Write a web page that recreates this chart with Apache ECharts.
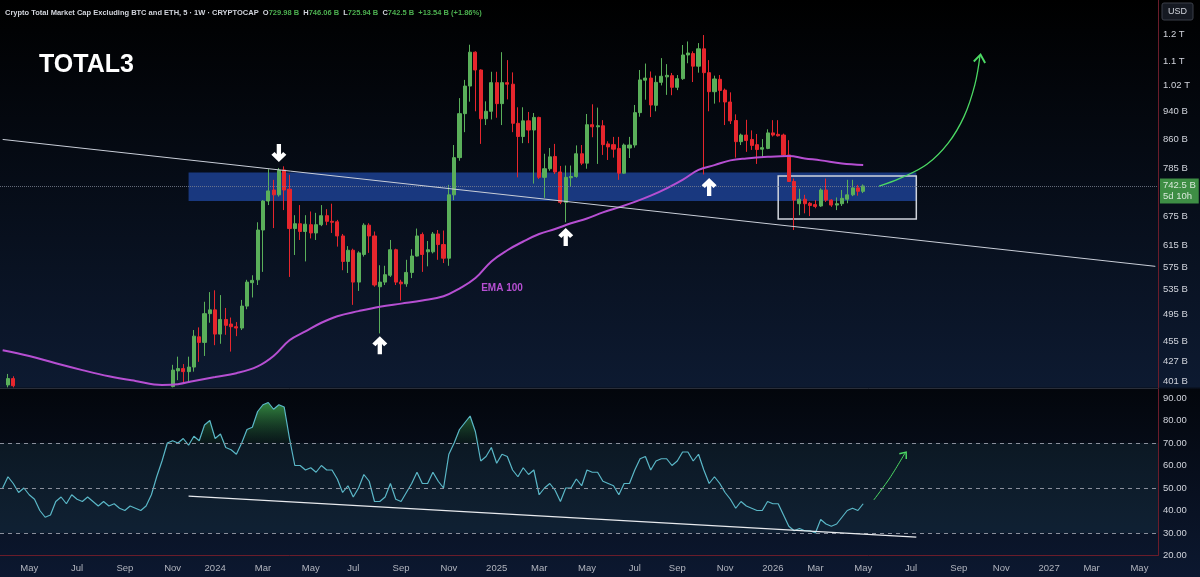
<!DOCTYPE html>
<html><head><meta charset="utf-8">
<script src="https://cdn.jsdelivr.net/npm/echarts@6/dist/echarts.min.js"></script>
<style>html,body{margin:0;padding:0;background:#000;}#c{width:1200px;height:577px;}</style>
</head><body><div id="c"></div>
<script>
// ---------- data ----------
const startMonday = '2023-03-27';
const weekCount = 218;
const opens = [385,396,404,390,372,365,360,350,335,318,325,330,338,345,340,342,335,318,312,315,308,300,305,298,305,310,312,322,340,358,370,378,
394,414,417,413,419,461,453,496,502,465,487,480,476,474,508,547,552,646,708,733,722,781,735,649,659,643,657,640,
657,676,664,663,634,585,606,548,598,656,634,540,548,560,607,548,545,565,595,637,603,603,638,617,591,722,812,933,1018,1133,
1071,918,940,1029,963,1029,1024,905,868,912,886,922,763,784,815,776,705,762,765,822,798,901,895,898,848,846,836,773,837,845,
936,1037,1044,958,1030,1048,1052,1014,1042,1123,1128,1084,1145,1062,1000,1040,1005,968,913,854,872,860,846,834,836,878,874,872,819,753,
702,712,703,700,697,733,710,699,702,712,722,738,729.98];
const highs = [390,410,407,391,380,372,366,355,340,330,336,342,350,352,348,346,338,322,320,318,312,310,308,309,314,316,326,345,362,375,384,391,
422,433,423,433,471,475,515,531,534,526,505,490,483,518,552,560,662,710,783,757,786,790,769,677,699,677,685,682,
699,690,702,667,638,614,609,604,660,660,643,578,577,626,609,552,588,608,649,641,624,642,646,645,745,845,980,1038,1160,1136,
1073,970,1065,1065,1133,1105,1063,952,952,938,935,924,822,837,848,791,792,792,844,845,932,961,951,914,855,867,867,849,867,959,
1071,1093,1066,1052,1112,1091,1061,1054,1159,1172,1136,1166,1196,1105,1052,1054,1010,998,931,876,915,885,875,861,888,914,914,876,858,760,
736,722,706,710,737,760,712,716,733,757,757,745,746.06];
const lows = [378,393,393,368,360,352,345,330,312,310,320,325,332,335,334,330,314,305,306,302,294,296,292,294,300,303,308,318,335,352,362,372,
393,402,398,400,413,426,434,482,449,451,464,440,462,471,503,522,543,566,699,650,718,688,557,597,626,585,629,626,
654,656,640,613,569,564,510,533,594,601,540,466,543,557,543,517,540,555,594,566,576,600,588,582,577,710,804,880,969,940,
848,900,916,921,900,976,880,763,850,850,748,759,715,779,771,701,662,740,762,793,784,866,796,819,806,812,757,771,811,838,
924,975,923,940,1020,990,989,1005,1038,1094,1031,1062,770,940,963,967,900,903,812,845,827,832,796,812,834,868,868,815,753,646,
677,681,675,692,695,706,695,688,697,703,719,720,725.94];
const closes = [388,404,395,372,365,360,350,335,318,325,330,338,345,340,342,335,318,312,315,308,300,305,298,305,310,312,322,340,358,370,378,390,
415,417,413,419,462,453,496,502,465,487,478,476,474,508,548,551,646,708,731,722,780,733,649,659,643,658,640,657,
676,664,662,634,585,606,548,601,656,634,543,548,561,607,548,545,565,595,634,598,607,638,617,591,722,812,933,1018,1133,1071,
918,940,1029,963,1029,1024,905,868,912,886,922,763,784,814,776,705,763,765,822,798,901,895,898,846,840,834,773,845,845,936,
1038,1044,959,1030,1050,1053,1014,1042,1123,1130,1084,1145,1062,1000,1041,1004,968,912,854,872,857,844,833,838,878,872,870,819,753,710,
712,702,698,696,733,710,699,702,714,722,738,730,742.5];
// EMA 100 read at sampled weeks
const emaWeek = [0,5,10,15,20,25,30,33,36,40,44,48,51,54,57,60,63,67,71,75,79,83,86,89,92,95,98,101,104,107,110,113,116,119,122,125,128,131,134,137,140,144,148,151,154,158,162];
const emaValue = [442,434,424,415,407,401,396,397,401,406,411,420,434,456,469,482,492,500,507,512,517,524,537,555,585,606,623,638,648,660,670,683,694,706,720,737,757,781,793,805,810,814,816,810,805,797,793];
// RSI (14)
const rsi = [50,55,52,48,50,47,45,40,37,38,44,46,43,47,45,44,46,44,42,44,42,43,41,40,42,41,40,42,47,55,
62,70,71,70,72,69,73,71,78,80,72,74,68,67,65,70,76,77,84,87,88,85,87,86,72,60,60,58,59,57,
60,58,58,54,48,51,46,50,56,53,44,44,46,52,45,44,48,52,57,52,52,57,53,50,65,70,76,79,82,75,
62,64,68,61,65,64,58,55,59,56,58,47,50,52,49,44,50,50,54,51,58,57,57,53,52,51,47,52,52,58,
63,64,58,62,63,63,60,62,66,66,62,65,58,52,55,52,48,45,41,44,42,41,40,40,44,43,43,38,33,31,
32,31,31,30,36,34,33,34,37,40,41,40,43];
const priceTicks = [1200,1100,1020,940,860,785,675,615,575,535,495,455,427,401];
const rsiTicks = [20,30,40,50,60,70,80,90];
const lastPrice = 742.5;
// projected-path annotations (week index, value)
const priceArrowWeek = [165,169,174,178,181,183,184];
const priceArrowValue = [742,761,795,850,925,1021,1123];
const rsiArrowWeek = [164,167,170];
const rsiArrowValue = [44.7,54.4,66];
// ---------- build ----------
const weeks = [];
(function(){const d0=Date.parse(startMonday+'T00:00:00Z');for(let k=0;k<weekCount;k++){weeks.push(new Date(d0+k*7*864e5).toISOString().slice(0,10));}})();
const monthNames=['Jan','Feb','Mar','Apr','May','Jun','Jul','Aug','Sep','Oct','Nov','Dec'];
function isLabelWeek(idx){const d=new Date(weeks[idx]+'T00:00:00Z');return d.getUTCDate()<=7&&d.getUTCMonth()%2===0;}
function weekLabel(v){const d=new Date(v+'T00:00:00Z');return d.getUTCMonth()===0?String(d.getUTCFullYear()):monthNames[d.getUTCMonth()];}
const candleData = opens.map((o,i)=>[o,closes[i],lows[i],highs[i]]);
const emaData = emaWeek.map((w,i)=>[w,emaValue[i]]);
const rsiBase = rsi.map(()=>70);
const rsiOver = rsi.map(v=>Math.max(v-70,0));
const priceArrowData = priceArrowWeek.map((w,i)=>[w,priceArrowValue[i]]);
const rsiArrowData = rsiArrowWeek.map((w,i)=>[w,rsiArrowValue[i]]);
function fmtPrice(v){return v>=1000?(v/1000)+' T':v+' B';}
const UP='#5aaf5a', DOWN='#e6262d', GREEN_ARROW='#4cd964';
const arrowPath='path://M8,0 L16,8 L12.6,11.2 L10.3,8.6 L10.3,20 L5.7,20 L5.7,8.6 L3.4,11.2 L0,8 Z';
const chevronPath='path://M6,0 L12,8 L10.6,9.2 L6,3 L1.4,9.2 L0,8 Z';
const FONT='Liberation Sans';

const chart = echarts.init(document.getElementById('c'), null, {renderer:'canvas'});
chart.setOption({
  animation:false,
  backgroundColor:{type:'linear',x:0,y:0,x2:0,y2:1,colorStops:[{offset:0,color:'#000000'},{offset:0.67,color:'#0d1a31'},{offset:0.675,color:'#03060c'},{offset:1,color:'#0c1830'}]},
  title:[
    {left:0,top:4,text:'{n|Crypto Total Market Cap Excluding BTC and ETH, 5 · 1W · CRYPTOCAP}  {k|O}{v|729.98 B}  {k|H}{v|746.06 B}  {k|L}{v|725.94 B}  {k|C}{v|742.5 B}  {v|+13.54 B (+1.86%)}',
     textStyle:{fontSize:7.5,fontFamily:FONT,rich:{n:{color:'#d1d4dc',fontSize:7.5,fontFamily:FONT},k:{color:'#d1d4dc',fontSize:7.5,fontFamily:FONT},v:{color:'#4caf50',fontSize:7.5,fontFamily:FONT}}}},
    {left:34,top:48,text:'TOTAL3',textStyle:{color:'#ffffff',fontSize:25,fontWeight:'bold',fontFamily:FONT}}
  ],
  graphic:[
    {type:'rect',shape:{x:1162,y:3,width:31,height:17,r:2},style:{fill:'#151922',stroke:'#3a3e48',lineWidth:1}},
    {type:'text',style:{text:'USD',x:1177.5,y:11.5,align:'center',verticalAlign:'middle',fill:'#d1d4dc',fontSize:9,fontFamily:FONT}}
  ],
  grid:[
    {left:0,right:42,top:0,height:388,containLabel:false},
    {left:0,right:42,top:389,bottom:21.5,containLabel:false}
  ],
  xAxis:[
    {type:'category',gridIndex:0,data:weeks,boundaryGap:true,axisLabel:{show:false},axisTick:{show:false},axisLine:{show:true,lineStyle:{color:'#2a2e39',width:1}},splitLine:{show:false}},
    {type:'category',gridIndex:1,data:weeks,boundaryGap:true,axisTick:{show:false},axisLine:{show:true,lineStyle:{color:'#6a1c2a',width:1}},splitLine:{show:false},
     axisLabel:{show:true,interval:(idx)=>isLabelWeek(idx),formatter:weekLabel,color:'#b2b5be',fontSize:9.5,fontFamily:FONT,margin:8}}
  ],
  yAxis:[
    {type:'log',logBase:10,gridIndex:0,position:'right',min:392.2,max:1336,axisLabel:{show:false},axisTick:{show:false},splitLine:{show:false},axisLine:{show:true,lineStyle:{color:'#6a1c2a',width:1}}},
    {type:'value',gridIndex:1,position:'right',min:20,max:94,interval:10,axisTick:{show:false},splitLine:{show:false},axisLine:{show:true,lineStyle:{color:'#6a1c2a',width:1}},
     axisLabel:{show:true,showMaxLabel:false,formatter:(v)=>v.toFixed(2),color:'#d1d4dc',fontSize:9.5,fontFamily:FONT,margin:5}}
  ],
  series:[
    {type:'candlestick',name:'TOTAL3',xAxisIndex:0,yAxisIndex:0,data:candleData,barWidth:3.6,clip:true,
     itemStyle:{color:UP,color0:DOWN,borderColor:UP,borderColor0:DOWN,borderWidth:1},
     markArea:{silent:true,data:[
       [{coord:[35,775],itemStyle:{color:'rgba(37,84,190,0.62)',borderWidth:0}},{coord:[172,708]}],
       [{coord:[146,766],itemStyle:{color:'rgba(0,0,0,0)',borderColor:'#d0d4dc',borderWidth:1.5}},{coord:[172,669]}]
     ]},
     markPoint:{silent:true,symbol:arrowPath,symbolSize:[15,18],itemStyle:{color:'#ffffff'},label:{show:false},data:[
       {coord:[52,824],symbolRotate:180},{coord:[71,449]},{coord:[106,632]},{coord:[133,740]}
     ]}
    },
    {type:'line',name:'EMA 100',xAxisIndex:0,yAxisIndex:0,data:emaData,smooth:0.4,connectNulls:true,showSymbol:false,symbol:'none',clip:false,
     lineStyle:{color:'#b64fd2',width:2},
     markPoint:{silent:true,data:[{coord:[94,538],symbol:'circle',symbolSize:1,itemStyle:{color:'rgba(0,0,0,0)'},
       label:{show:true,position:'inside',formatter:'EMA 100',color:'#b64fd2',fontSize:10,fontWeight:'bold',fontFamily:FONT}}]},
     markLine:{silent:true,symbol:['none','none'],animation:false,data:[
       ...priceTicks.map(v=>({yAxis:v,lineStyle:{color:'rgba(0,0,0,0)',width:0},label:{show:true,position:'end',distance:5,formatter:fmtPrice(v),color:'#d1d4dc',fontSize:9.5,fontFamily:FONT}})),
       {yAxis:lastPrice,lineStyle:{type:'dotted',color:'#7b8190',width:1,opacity:0.8},label:{show:true,position:'end',distance:2,offset:[0,5],formatter:'742.5 B\n5d 10h',backgroundColor:'#4caf50',color:'#ffffff',padding:[2,3,1,3],fontSize:9.5,lineHeight:11,fontFamily:FONT}},
       [{coord:[0,860],symbol:'none',lineStyle:{color:'#c9ced8',width:1,type:'solid'},label:{show:false}},{coord:[217,576],symbol:'none'}]
     ]}
    },
    {type:'line',name:'projection',xAxisIndex:0,yAxisIndex:0,data:priceArrowData,smooth:0.4,showSymbol:false,symbol:'none',clip:false,silent:true,
     lineStyle:{color:GREEN_ARROW,width:1.3},
     markPoint:{silent:true,symbol:chevronPath,symbolSize:[13,10],symbolRotate:-8,symbolOffset:[0,3],itemStyle:{color:GREEN_ARROW},label:{show:false},
       data:[{coord:[184,1123]}]}},
    {type:'line',name:'rsiBase',xAxisIndex:1,yAxisIndex:1,data:rsiBase,stack:'ob',symbol:'none',lineStyle:{width:0,opacity:0},silent:true,
     markArea:{silent:true,data:[[{yAxis:30,itemStyle:{color:'rgba(70,150,160,0.10)'}},{yAxis:70}]]},
     markLine:{silent:true,symbol:['none','none'],label:{show:false},data:[
       {yAxis:70,lineStyle:{type:[4,4],color:'#8a8f9c',width:1}},
       {yAxis:50,lineStyle:{type:[4,4],color:'#8a8f9c',width:1}},
       {yAxis:30,lineStyle:{type:[4,4],color:'#8a8f9c',width:1}}
     ]}},
    {type:'line',name:'rsiOver',xAxisIndex:1,yAxisIndex:1,data:rsiOver,stack:'ob',symbol:'none',lineStyle:{width:0,opacity:0},silent:true,
     areaStyle:{color:{type:'linear',x:0,y:0,x2:0,y2:1,colorStops:[{offset:0,color:'rgba(76,200,90,0.95)'},{offset:1,color:'rgba(40,120,60,0.15)'}]}}},
    {type:'line',name:'rsiProjection',xAxisIndex:1,yAxisIndex:1,data:rsiArrowData,smooth:0.3,showSymbol:false,symbol:'none',silent:true,
     lineStyle:{color:GREEN_ARROW,width:1},
     markPoint:{silent:true,symbol:chevronPath,symbolSize:[10,7],symbolRotate:-38,symbolOffset:[-1,2],itemStyle:{color:GREEN_ARROW},label:{show:false},
       data:[{coord:[170,66]}]}},
    {type:'line',name:'RSI',xAxisIndex:1,yAxisIndex:1,data:rsi,symbol:'none',lineStyle:{color:'#5ab7c7',width:1.2},
     markLine:{silent:true,symbol:['none','none'],label:{show:false},data:[
       [{coord:[35,46.4],lineStyle:{color:'#e8eaee',width:1.3,type:'solid'}},{coord:[172,28.2]}]
     ]}}
  ]
});
</script></body></html>
